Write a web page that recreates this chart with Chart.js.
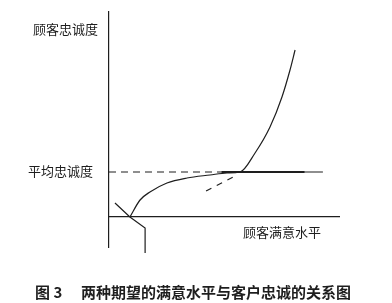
<!DOCTYPE html>
<html>
<head>
<meta charset="utf-8">
<script src="https://cdn.jsdelivr.net/npm/chart.js@4"></script>
<style>
  html, body { margin: 0; padding: 0; background: #fff; }
  #wrap { width: 392px; height: 303px; }
</style>
</head>
<body>
<div id="wrap"><canvas id="c" width="392" height="303"></canvas></div>
<script>
// ---------- data (satisfaction x, loyalty y) ----------
const avgLoyalty = 2.25;

const highCurveX = [0.91, 1.35, 1.78, 2.52, 3.39, 4.39, 5.13, 5.70, 6.35, 7.00, 7.52, 7.87, 8.09];
const highCurveY = [0.00, 0.85, 1.25, 1.70, 1.95, 2.10, 2.20, 2.25, 3.20, 4.50, 6.00, 7.35, 8.35];

const lowCurveX = [0.26, 0.91, 1.57, 1.57];
const lowCurveY = [0.70, 0.00, -0.55, -1.80];

const shortDashX = [4.22, 5.57];
const shortDashY = [1.30, 2.10];

const avgDashX = [0, 5.4];
const avgSolidX = [4.9, 9.3];
const avgThickX = [4.9, 8.5];

const labels = {
  yAxis: "顾客忠诚度",
  avg: "平均忠诚度",
  xAxis: "顾客满意水平",
  figNo: "图 3",
  caption: "两种期望的满意水平与客户忠诚的关系图"
};

const pts = (xs, ys) => xs.map((x, i) => ({ x, y: ys[i] }));
const flat = (xs, y) => xs.map(x => ({ x, y }));
const ink = "#1e1e1e";

function line(data, opts) {
  return Object.assign({
    data, showLine: true, pointRadius: 0, borderColor: ink,
    borderWidth: 1.2, fill: false, clip: false
  }, opts);
}

// ---------- text labels ----------
const textPlugin = {
  id: "texts",
  afterDraw(chart) {
    const { ctx, scales } = chart;
    const font = '"Noto Sans CJK SC", sans-serif';
    ctx.save();
    ctx.fillStyle = ink;
    ctx.textBaseline = "middle";
    ctx.font = "13px " + font;
    ctx.textAlign = "left";
    ctx.fillText(labels.yAxis, 33, 29);
    ctx.fillText(labels.avg, 28, scales.y.getPixelForValue(avgLoyalty) - 1);
    ctx.fillText(labels.xAxis, 243, 232);
    ctx.font = "bold 15px " + font;
    ctx.fillText(labels.figNo, 35, 292);
    ctx.fillText(labels.caption, 81, 292);
    ctx.restore();
  }
};

new Chart(document.getElementById("c"), {
  type: "scatter",
  data: {
    datasets: [
      line(flat(avgDashX, avgLoyalty), { borderDash: [7, 5] }),
      line(flat(avgSolidX, avgLoyalty)),
      line(flat(avgThickX, avgLoyalty), { borderWidth: 2 }),
      line(pts(shortDashX, shortDashY), { borderDash: [6, 6] }),
      line(pts(highCurveX, highCurveY), { cubicInterpolationMode: "monotone" }),
      line(pts(lowCurveX, lowCurveY))
    ]
  },
  options: {
    responsive: false,
    animation: false,
    layout: { padding: { left: 101, right: 53, top: 12, bottom: 56 } },
    plugins: { legend: { display: false }, tooltip: { enabled: false } },
    scales: {
      x: {
        type: "linear", min: 0, max: 10, position: { y: 0 },
        ticks: { display: false }, grid: { display: false },
        border: { display: true, color: ink, width: 1.2 }
      },
      y: {
        type: "linear", min: -1.5, max: 10.25,
        ticks: { display: false }, grid: { display: false },
        border: { display: true, color: ink, width: 1.2 }
      }
    }
  },
  plugins: [textPlugin]
});
</script>
</body>
</html>
